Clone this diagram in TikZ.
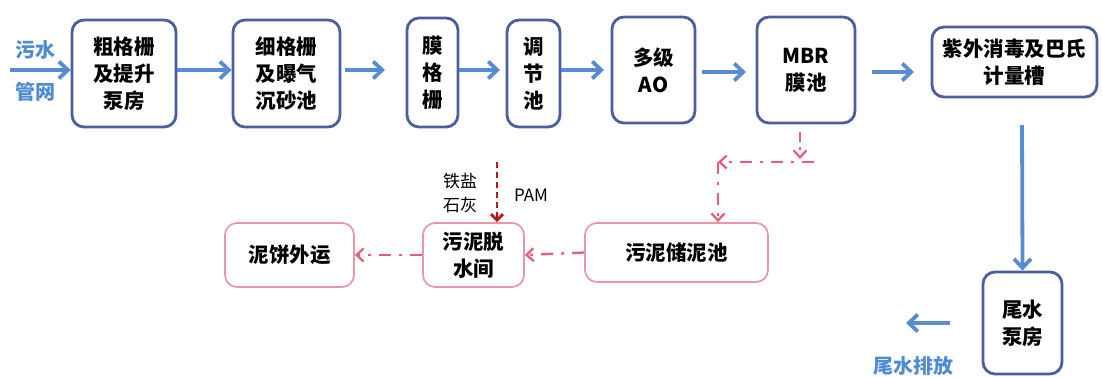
\documentclass[tikz,border=0pt]{standalone}
\usepackage{fontspec}
\setmainfont{Noto Sans CJK SC}
\usetikzlibrary{arrows.meta}
\definecolor{boxblue}{RGB}{74,94,160}
\definecolor{arrblue}{RGB}{88,140,210}
\definecolor{pinkbox}{RGB}{232,150,168}
\definecolor{redarr}{RGB}{228,96,118}
\definecolor{darkred}{RGB}{190,20,30}
\definecolor{lblblue}{RGB}{80,140,210}
\tikzset{
  box/.style={draw=boxblue, line width=2.8pt, rounded corners=12pt, align=center,
    font=\fontsize{20.5}{27}\selectfont\bfseries, inner sep=0pt},
  pbox/.style={draw=pinkbox, line width=1.7pt, rounded corners=12pt, align=center,
    font=\fontsize{20.5}{27}\selectfont\bfseries, inner sep=0pt},
  barr/.style={draw=arrblue, line width=3.8pt, -{Straight Barb[length=9pt,width=17pt]}},
  rarr/.style={draw=redarr, line width=2.3pt, dash pattern=on 12pt off 8pt on 3pt off 8pt,
    -{Straight Barb[length=7pt,width=13pt]}},
  lbl/.style={text=lblblue, font=\fontsize{20}{24}\selectfont\bfseries},
  note/.style={font=\fontsize{17}{24}\selectfont, align=center}
}
\begin{document}
\begin{tikzpicture}[x=1pt,y=-1pt]
\useasboundingbox (0,0) rectangle (1102,376);
\node[box, minimum width=104pt, minimum height=107pt] (b1) at (124,73.5) {粗格栅\\及提升\\泵房};
\node[box, minimum width=107pt, minimum height=107pt] (b2) at (286.5,73.5) {细格栅\\及曝气\\沉砂池};
\node[box, minimum width=51pt, minimum height=109pt] (b3) at (432.5,72.5) {膜\\格\\栅};
\node[box, minimum width=53pt, minimum height=107pt] (b4) at (533.5,73.5) {调\\节\\池};
\node[box, minimum width=83pt, minimum height=106pt] (b5) at (653.5,70) {多级\\AO};
\node[box, minimum width=98pt, minimum height=106pt] (b6) at (806,70) {MBR\\膜池};
\node[box, minimum width=165pt, minimum height=70pt] (b7) at (1014.5,62) {紫外消毒及巴氏\\计量槽};
\node[box, minimum width=79pt, minimum height=102pt] (b8) at (1022.5,323) {尾水\\泵房};
\node[pbox, minimum width=183pt, minimum height=59pt] (s1) at (676.5,252.5) {污泥储泥池};
\node[pbox, minimum width=101pt, minimum height=64pt] (s2) at (473.5,255) {污泥脱\\水间};
\node[pbox, minimum width=129pt, minimum height=64pt] (s3) at (289.5,255) {泥饼外运};
% inlet
\coordinate (in) at (10,70);
\node[lbl] (l1) at (36,50) {污水};
\node[lbl] (l2) at (36,92) {管网};
\draw[barr] (in) -- (b1.west|-in);
\draw[barr] (b1.east|-0,70) -- (b2.west|-0,70);
\draw[barr] (b2.east|-0,70) ++(4,0) -- (385,70);
\draw[barr] (b3.east|-0,70) -- (500,70);
\draw[barr] (b4.east|-0,70) -- (604,70);
\draw[barr] (b5.east|-0,72) ++(6,0) -- (746,72);
\draw[barr] (b6.east|-0,72) ++(16,0) -- (914,72);
\draw[barr] (1022,125) -- (b8.north);
\coordinate (o1) at (950,323);
\coordinate (o2) at (906,323);
\draw[barr] (o1) -- (o2);
\node[lbl] (l3) at (913,366) {尾水排放};
% sludge
\coordinate (m1) at (800,132);
\coordinate (m2) at (800,159);
\coordinate (h1) at (814,162);
\coordinate (h2) at (718,162);
\draw[rarr, dash pattern=on 10pt off 5pt on 3pt off 6pt] (m1) -- (m2);
\draw[rarr] (h1) -- (h2);
\draw[rarr] (h2) -- (s1.north-|h2);
\draw[rarr] (s1.west) -- (s2.east);
\draw[rarr] (s2.west) -- (s3.east);
\coordinate (p1) at (497,162);
\draw[draw=darkred, line width=2.8pt, dash pattern=on 6pt off 4pt, -{Straight Barb[length=6pt,width=12pt]}] (p1) -- (s2.north-|p1);
\node[note] (n1) at (460,193) {铁盐\\石灰};
\node[note] (n2) at (531,195) {PAM};
\end{tikzpicture}
\end{document}
